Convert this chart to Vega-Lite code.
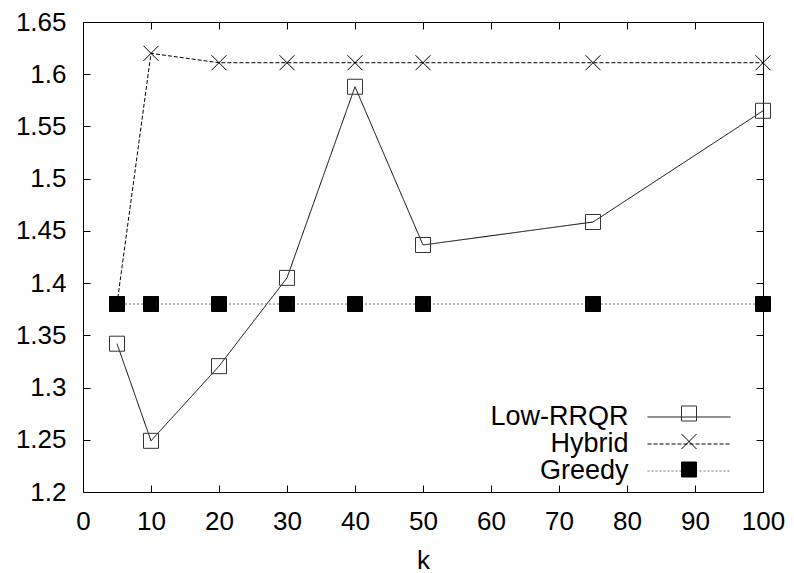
{
  "$schema": "https://vega.github.io/schema/vega-lite/v6.json",
  "width": 680,
  "height": 470,
  "autosize": {"type": "none"},
  "padding": {"left": 83, "top": 22, "right": 31, "bottom": 81},
  "background": "white",
  "config": {
    "font": "Liberation Sans",
    "view": {"stroke": "black", "strokeWidth": 1},
    "axis": {
      "grid": false,
      "domain": false,
      "tickColor": "black",
      "tickSize": -7,
      "tickWidth": 1,
      "labelFlush": false,
      "labelOverlap": false,
      "labelFont": "Liberation Sans",
      "labelFontSize": 26,
      "labelColor": "black",
      "titleFont": "Liberation Sans",
      "titleFontSize": 26,
      "titleFontWeight": "normal",
      "titleColor": "black"
    }
  },
  "data": {
    "values": [
      {"series": "Low-RRQR", "k": 5, "value": 1.342},
      {"series": "Low-RRQR", "k": 10, "value": 1.249},
      {"series": "Low-RRQR", "k": 20, "value": 1.3205},
      {"series": "Low-RRQR", "k": 30, "value": 1.405},
      {"series": "Low-RRQR", "k": 40, "value": 1.588},
      {"series": "Low-RRQR", "k": 50, "value": 1.4365},
      {"series": "Low-RRQR", "k": 75, "value": 1.4585},
      {"series": "Low-RRQR", "k": 100, "value": 1.565},
      {"series": "Hybrid", "k": 5, "value": 1.38},
      {"series": "Hybrid", "k": 10, "value": 1.62},
      {"series": "Hybrid", "k": 20, "value": 1.611},
      {"series": "Hybrid", "k": 30, "value": 1.611},
      {"series": "Hybrid", "k": 40, "value": 1.611},
      {"series": "Hybrid", "k": 50, "value": 1.611},
      {"series": "Hybrid", "k": 75, "value": 1.611},
      {"series": "Hybrid", "k": 100, "value": 1.611},
      {"series": "Greedy", "k": 5, "value": 1.38},
      {"series": "Greedy", "k": 10, "value": 1.38},
      {"series": "Greedy", "k": 20, "value": 1.38},
      {"series": "Greedy", "k": 30, "value": 1.38},
      {"series": "Greedy", "k": 40, "value": 1.38},
      {"series": "Greedy", "k": 50, "value": 1.38},
      {"series": "Greedy", "k": 75, "value": 1.38},
      {"series": "Greedy", "k": 100, "value": 1.38}
    ]
  },
  "resolve": {"axis": {"x": "independent", "y": "independent"}},
  "layer": [
    {
      "mark": {"type": "line", "strokeWidth": 1},
      "encoding": {
        "x": {
          "field": "k",
          "type": "quantitative",
          "scale": {"domain": [0, 100], "nice": false, "zero": false},
          "axis": {
            "orient": "bottom",
            "values": [0, 10, 20, 30, 40, 50, 60, 70, 80, 90, 100],
            "title": "k",
            "labelPadding": 23,
            "titlePadding": 13
          }
        },
        "y": {
          "field": "value",
          "type": "quantitative",
          "scale": {"domain": [1.2, 1.65], "nice": false, "zero": false},
          "axis": {
            "orient": "left",
            "values": [1.2, 1.25, 1.3, 1.35, 1.4, 1.45, 1.5, 1.55, 1.6, 1.65],
            "format": ".2~f",
            "title": null,
            "labelPadding": 24
          }
        },
        "color": {
          "field": "series",
          "type": "nominal",
          "sort": "descending",
          "scale": {"range": ["black", "black", "#6e6e6e"]}
        },
        "strokeDash": {
          "field": "series",
          "type": "nominal",
          "sort": "descending",
          "scale": {"range": [[1, 0], [4, 2], [2, 2]]},
          "legend": {
            "orient": "none",
            "legendX": 592.5,
            "legendY": 381.5,
            "title": null,
            "padding": 0,
            "symbolType": "M-5.533,0H5.533",
            "symbolSize": 225,
            "symbolStrokeWidth": 1,
            "rowPadding": -2,
            "labelAlign": "right",
            "labelOffset": -74,
            "labelFont": "Liberation Sans",
            "labelFontSize": 27,
            "labelColor": "black",
            "labelLimit": 300
          }
        }
      }
    },
    {
      "mark": {"type": "point", "size": 225, "strokeWidth": 1, "filled": false, "opacity": 1},
      "encoding": {
        "x": {
          "field": "k",
          "type": "quantitative",
          "axis": {
            "orient": "top",
            "values": [0, 10, 20, 30, 40, 50, 60, 70, 80, 90, 100],
            "labels": false,
            "title": null
          }
        },
        "y": {
          "field": "value",
          "type": "quantitative",
          "axis": {
            "orient": "right",
            "values": [1.2, 1.25, 1.3, 1.35, 1.4, 1.45, 1.5, 1.55, 1.6, 1.65],
            "labels": false,
            "title": null
          }
        },
        "shape": {
          "field": "series",
          "type": "nominal",
          "scale": {"domain": ["Low-RRQR", "Hybrid", "Greedy"], "range": ["square", "M-1,-1L1,1M-1,1L1,-1", "square"]},
          "legend": {
            "orient": "none",
            "legendX": 598,
            "legendY": 383.5,
            "title": null,
            "padding": 0,
            "symbolSize": 225,
            "symbolStrokeWidth": 1,
            "rowPadding": 8,
            "labelOpacity": 0,
            "labelFontSize": 1
          }
        },
        "stroke": {
          "field": "series",
          "type": "nominal",
          "scale": {"domain": ["Low-RRQR", "Hybrid", "Greedy"], "range": ["#333333", "black", "black"]}
        },
        "fill": {
          "field": "series",
          "type": "nominal",
          "scale": {"domain": ["Low-RRQR", "Hybrid", "Greedy"], "range": ["transparent", "transparent", "black"]}
        }
      }
    }
  ]
}
